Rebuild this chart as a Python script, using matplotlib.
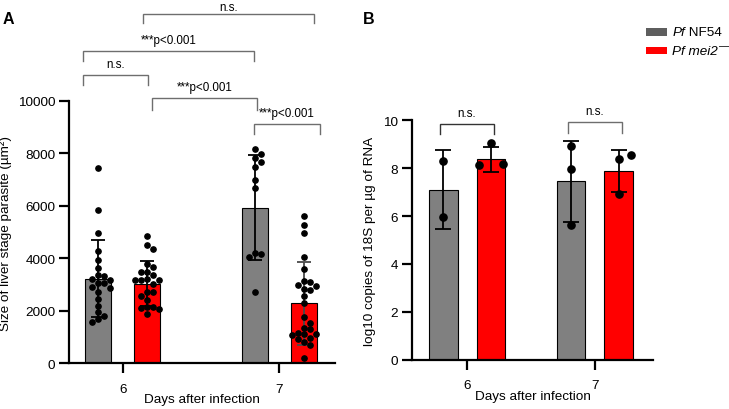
import numpy as np
import matplotlib
matplotlib.use("Agg")
import matplotlib.pyplot as plt
from matplotlib.patches import Rectangle

plt.rcParams['font.family'] = ['Liberation Sans', 'DejaVu Sans']

# ---------------- data ----------------
days = ["6", "7"]
groups = ["Pf NF54", "Pf mei2-"]

# Panel A: liver stage size (µm²)
a_means = {"NF54": [3230, 5930], "mei2": [3030, 2280]}
a_sd = {"NF54": [1480, 2000], "mei2": [860, 1570]}
a_nf54_d6 = [7450, 5850, 4950, 4280, 3950, 3620, 3360, 3340, 3200, 3180, 3060,
             3050, 2900, 2880, 2700, 2450, 2200, 1950, 1800, 1700, 1580]
a_mei2_d6 = [4860, 4500, 4340, 3800, 3650, 3480, 3460, 3380, 3200, 3190, 3180,
             3170, 3020, 2720, 2700, 2580, 2400, 2150, 2130, 2120, 2070, 1860]
a_nf54_d7 = [8150, 7970, 7810, 7650, 7490, 6980, 6680, 4190, 4180, 4040, 2720]
a_mei2_d7 = [5600, 5260, 4960, 4040, 3600, 3120, 3100, 2980, 2950, 2830, 2800,
             2580, 2300, 1750, 1550, 1330, 1300, 1150, 1120, 1100, 1080, 950,
             920, 800, 700, 200]

# Panel B: log10 copies of 18S per µg RNA
b_means = {"NF54": [7.1, 7.45], "mei2": [8.38, 7.9]}
b_sd = {"NF54": [1.65, 1.69], "mei2": [0.52, 0.88]}
b_nf54_d6 = [8.30, 5.98]
b_mei2_d6 = [9.04, 8.19, 8.14]
b_nf54_d7 = [8.92, 7.98, 5.63]
b_mei2_d7 = [8.39, 8.55, 6.93]

a_sig = ["n.s.", "***p<0.001", "n.s.", "***p<0.001", "***p<0.001"]
b_sig = ["n.s.", "n.s."]

GRAY = "#808080"
RED = "#ff0000"
LEG_GRAY = "#5e5e5e"
FS = 9.7

fig = plt.figure(figsize=(7.29, 4.10), dpi=100)
W, H = 729, 410


def ax_rect(l, r, top, bot):
    return [l / W, 1 - bot / H, (r - l) / W, (bot - top) / H]


axA = fig.add_axes(ax_rect(69.3, 335, 101.8, 364.3))
axB = fig.add_axes(ax_rect(411.7, 653.3, 121.3, 360.7))


def swarm(vals, center, px_x, px_y, dx, dy):
    """simple beeswarm (list order): returns x positions (data units)"""
    placed = []
    xs = []
    cands = [0]
    for m in range(1, 12):
        cands += [m, -m]
    for v in vals:
        yv = v * px_y
        for c in cands:
            xo = c * dx
            ok = True
            for (px, py) in placed:
                if ((px - xo) / dx) ** 2 + ((py - yv) / dy) ** 2 < 0.97:
                    ok = False
                    break
            if ok:
                break
        placed.append((xo, yv))
        xs.append(center + xo / px_x)
    return np.array(xs)


def style_axes(ax, ylim, yticks, xlim, lw=1.6):
    ax.set_ylim(*ylim)
    ax.set_xlim(*xlim)
    for s in ["top", "right"]:
        ax.spines[s].set_visible(False)
    ax.spines["left"].set_linewidth(lw)
    ax.spines["bottom"].set_linewidth(lw)
    ax.set_yticks(yticks)
    ax.set_xticks([0, 1])
    ax.set_xticklabels(days)
    ax.tick_params(axis="both", length=7, width=lw, labelsize=FS, colors="black")
    ax.tick_params(axis="x", pad=7)
    ax.tick_params(axis="y", pad=3)


def draw_panel(ax, means, sds, pts, off, width, px_x, px_y, dx, dy, ms,
               capsize, err_colors):
    keys = ["NF54", "mei2"]
    cols = [GRAY, RED]
    for gi, key in enumerate(keys):
        sign = -1 if gi == 0 else 1
        x = np.arange(2) + sign * off
        ax.bar(x, means[key], width=width, color=cols[gi], edgecolor="black",
               linewidth=0.8, zorder=2)
        for di in range(2):
            ax.errorbar(x[di], means[key][di], yerr=sds[key][di], fmt="none",
                        ecolor=err_colors[gi][di], elinewidth=1.3,
                        capsize=capsize, capthick=1.3, zorder=3)
            v = pts[gi][di]
            xs = swarm(v, x[di], px_x, px_y, dx, dy)
            ax.plot(xs, v, "o", color="black", ms=ms, mec="black", zorder=4,
                    clip_on=False)


# ---------- Panel A ----------
pxA_x = 156.3
pxA_y = 1 / 38.1
offA, wA = 0.157, 0.166
style_axes(axA, (0, 10000), [0, 2000, 4000, 6000, 8000, 10000], (-0.343, 1.358))
draw_panel(axA, a_means, a_sd,
           [[a_nf54_d6, a_nf54_d7], [a_mei2_d6, a_mei2_d7]],
           offA, wA, pxA_x, pxA_y, 6.0, 6.0, 3.8, 4.7,
           [["black", "black"], ["black", "#4a4a4a"]])
axA.set_ylabel("Size of liver stage parasite (µm²)", fontsize=FS, labelpad=4)
axA.set_xlabel("Days after infection", fontsize=FS, labelpad=-1)


def bracket(ax, x0, x1, ytop, ylow, text, color="#6e6e6e", fs=8.4, gap=3.5):
    ax.plot([x0, x0, x1, x1], [ylow, ytop, ytop, ylow], color=color, lw=1.0,
            clip_on=False, solid_joinstyle="miter")
    ax.annotate(text, xy=((x0 + x1) / 2, ytop), xytext=(0, gap),
                textcoords="offset points", ha="center", va="bottom",
                fontsize=fs, annotation_clip=False)


def pxa(x):
    return (x - 122.7) / pxA_x


def pya(y):
    return (364.3 - y) * 38.1


bracketsA = [(142.7, 313.7, 14.7, 24.3), (82.3, 254.0, 52.3, 62.0),
             (82.3, 148.3, 76.0, 86.3), (152.3, 257.3, 98.7, 111.0),
             (254.3, 320.0, 125.0, 135.0)]
for i, ((x0, x1, yt, yl), t) in enumerate(zip(bracketsA, a_sig)):
    bracket(axA, pxa(x0), pxa(x1), pya(yt), pya(yl), t,
            gap=0.6 if i == 0 else 3.5)

# ---------- Panel B ----------
pxB_x = 127.7
pxB_y = 23.97
offB, wB = 0.187, 0.225
style_axes(axB, (0, 10), [0, 2, 4, 6, 8, 10], (-0.435, 1.457))
draw_panel(axB, b_means, b_sd,
           [[b_nf54_d6, b_nf54_d7], [b_mei2_d6, b_mei2_d7]],
           offB, wB, pxB_x, pxB_y, 12.0, 22.0, 5.2, 6.0,
           [["black", "black"], ["black", "black"]])
axB.set_ylabel("log10 copies of 18S per µg of RNA", fontsize=FS, labelpad=5)
axB.set_xlabel("Days after infection", fontsize=FS, labelpad=-1)


def pxb(x):
    return (x - 467.3) / pxB_x


def pyb(y):
    return (360.7 - y) / pxB_y


bracketsB = [(440.0, 493.7, 125.0, 135.0, "#333333"),
             (568.3, 621.7, 122.7, 133.3, "#6e6e6e")]
for (x0, x1, yt, yl, c), t in zip(bracketsB, b_sig):
    bracket(axB, pxb(x0), pxb(x1), pyb(yt), pyb(yl), t, color=c)

# ---------- panel letters ----------
fig.text(3 / W, 1 - 20 / H, "A", fontsize=11.5, fontweight="bold", va="center")
fig.text(363 / W, 1 - 20 / H, "B", fontsize=11.5, fontweight="bold", va="center")

# ---------- legend ----------
renderer = fig.canvas.get_renderer()


def text_run(x_px, y_px, pieces, fs=9.7):
    x = x_px
    for txt, style in pieces:
        t = fig.text(x / W, 1 - y_px / H, txt, fontsize=fs, style=style,
                     va="center", ha="left")
        bb = t.get_window_extent(renderer=renderer)
        x += bb.width
    return x


fig.add_artist(Rectangle((645.7 / W, 1 - 36.7 / H), 21 / W, 7.4 / H,
                         transform=fig.transFigure, color=LEG_GRAY, lw=0))
fig.add_artist(Rectangle((645.7 / W, 1 - 54.7 / H), 21 / W, 6.7 / H,
                         transform=fig.transFigure, color=RED, lw=0))
text_run(672.3, 33.3, [("Pf", "italic"), (" NF54", "normal")])
xe = text_run(672.3, 51.7, [("Pf mei2", "italic")])
fig.text((xe + 1) / W, 1 - 46 / H, "—", fontsize=7.5, va="center", ha="left")

fig.savefig("out.png", dpi=100)
